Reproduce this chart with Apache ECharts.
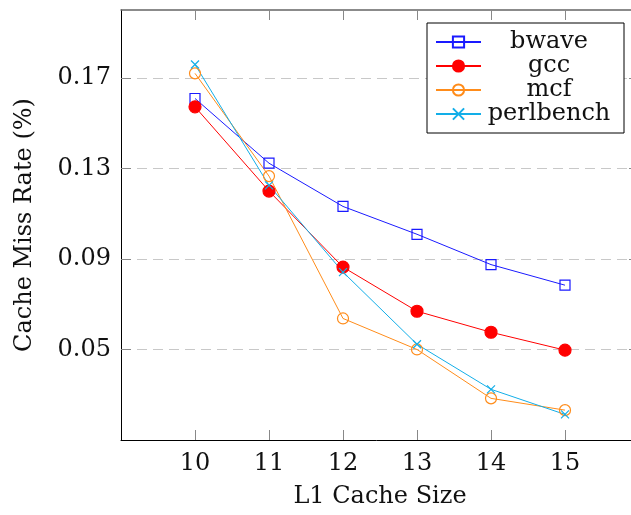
<!DOCTYPE html>
<html>
<head>
<meta charset="utf-8">
<script src="https://cdn.jsdelivr.net/npm/echarts@6/dist/echarts.min.js"></script>
<style>
  html, body { margin: 0; padding: 0; background: #fff; }
  #chart { width: 631px; height: 515px; }
</style>
</head>
<body>
<div id="chart"></div>
<script>
const cacheSizes = [10, 11, 12, 13, 14, 15];
const bwave = [0.1609, 0.1323, 0.1132, 0.1009, 0.0875, 0.0784];
const gcc = [0.1572, 0.1200, 0.0864, 0.0669, 0.0576, 0.0497];
const mcf = [0.1720, 0.1266, 0.0637, 0.0500, 0.0284, 0.0232];
const perlbench = [0.1759, 0.1225, 0.0842, 0.0523, 0.0324, 0.0213];
const yTicks = [0.05, 0.09, 0.13, 0.17];
const xTicks = [10, 11, 12, 13, 14, 15];

const font = 'DejaVu Serif';
const pairs = (ys) => cacheSizes.map((x, i) => [x, ys[i]]);

const chart = echarts.init(document.getElementById('chart'));

function makeSeries(name, ys, color, symbol, size, filled) {
  return {
    name,
    type: 'line',
    data: pairs(ys),
    symbol,
    symbolSize: size,
    showAllSymbol: true,
    color,
    lineStyle: { color, width: 1 },
    itemStyle: {
      color: filled ? color : 'rgba(0,0,0,0)',
      borderColor: color,
      borderWidth: 1.2
    },
    emphasis: { disabled: true }
  };
}

const tick = (values) => ({
  show: true, inside: true, length: 10, customValues: values,
  lineStyle: { color: '#888', width: 1 }
});

chart.setOption({
  animation: false,
  textStyle: { fontFamily: font },
  grid: { left: 121, right: -8, top: 10, bottom: 75, containLabel: false, outerBoundsMode: 'none' },
  legend: {
    orient: 'vertical',
    left: 427,
    top: 23,
    padding: [7, 12, 7, 8],
    itemGap: 0,
    itemWidth: 45,
    itemHeight: 14,
    borderColor: '#000',
    borderWidth: 1,
    backgroundColor: '#fff',
    formatter: '{a|{name}}',
    textStyle: {
      fontFamily: font,
      fontSize: 24,
      color: '#111',
      rich: { a: { width: 126, align: 'center', lineHeight: 32.5, fontSize: 24, fontFamily: font } }
    },
    data: ['bwave', 'gcc', 'mcf', 'perlbench']
  },
  xAxis: [{
    type: 'value',
    min: 9,
    max: 16,
    name: 'L1 Cache Size',
    nameLocation: 'middle',
    nameGap: 45,
    nameTextStyle: { fontSize: 24, color: '#111', fontFamily: font },
    axisLine: { show: true, lineStyle: { color: '#000', width: 1 } },
    axisTick: tick(xTicks),
    axisLabel: {
      fontSize: 24, color: '#111', margin: 12, fontFamily: font,
      customValues: xTicks
    },
    splitLine: { show: false }
  }, {
    type: 'value',
    position: 'top',
    min: 9,
    max: 16,
    axisLine: { show: true, lineStyle: { color: '#666', width: 1.5 } },
    axisTick: tick(xTicks),
    axisLabel: { show: false },
    splitLine: { show: false }
  }],
  yAxis: [{
    type: 'value',
    min: 0.01,
    max: 0.2,
    interval: 0.04,
    name: 'Cache Miss Rate (%)',
    nameLocation: 'middle',
    nameGap: 84,
    nameTextStyle: { fontSize: 24, color: '#111', fontFamily: font },
    axisLine: { show: true, lineStyle: { color: '#000', width: 1 } },
    axisTick: tick(yTicks),
    axisLabel: {
      fontSize: 24, color: '#111', margin: 10, fontFamily: font,
      customValues: yTicks,
      formatter: (v) => v.toFixed(2)
    },
    splitLine: { show: true, lineStyle: { color: '#c8c8c8', width: 1, type: [10, 6] } }
  }, {
    type: 'value',
    position: 'right',
    min: 0.01,
    max: 0.2,
    axisLine: { show: false },
    axisTick: tick(yTicks),
    axisLabel: { show: false },
    splitLine: { show: false }
  }],
  series: [
    makeSeries('bwave', bwave, '#1a1aff', 'rect', 10, false),
    makeSeries('gcc', gcc, '#ff0000', 'circle', 12, true),
    makeSeries('mcf', mcf, '#ff8c1a', 'circle', 11, false),
    makeSeries('perlbench', perlbench, '#12aee8', 'path://M0,0L10,10M10,0L0,10', 8, false)
  ]
});
</script>
</body>
</html>
